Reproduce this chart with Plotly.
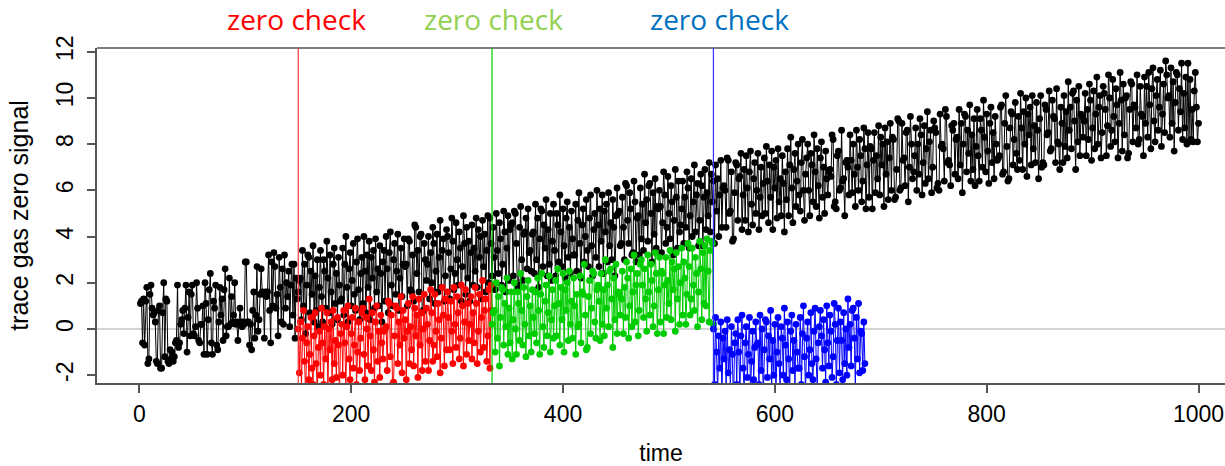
import plotly.graph_objects as go

# Raw signal, one reading per time step (t = 1 .. 1000)
black_signal = [
    1.1, 1.2, -0.6, 1.3, -0.7, 1.2, 1.8, -1.5, -1.3, 1.5, 1.9, 0.9, 0.6, 0.7, 0.3, -1.4, -1.5, 0.8, 1.0, -1.7,
    -1.7, 0.7, 2.0, -1.2, 1.3, 1.2, -1.4, -1.5, -0.9, -1.3, -1.0, -1.4, -1.2, -0.6, -0.5, 1.9, -0.8, -0.6, 0.2, 0.4,
    0.8, -0.2, 0.9, 1.9, -1.0, 0.5, 1.6, -0.3, 1.5, 1.9, -0.2, -0.3, 0.1, 2.0, 0.9, -0.5, -0.6, 0.2, 0.2, 1.0,
    -1.1, 2.0, 1.1, -1.1, 0.4, 1.7, 2.4, -0.6, -1.1, 1.2, 0.9, 1.9, -0.7, -0.9, 0.3, 1.8, 0.6, 1.3, -0.5, 1.7,
    2.6, -0.3, 0.1, 0.1, 2.2, 0.2, 1.4, 0.3, 0.6, 2.0, 0.2, 0.3, -0.5, 0.2, 0.9, 0.3, 0.1, 0.3, 0.2, 2.9,
    2.9, 0.3, 0.3, -0.7, 0.2, -0.9, 0.8, 1.6, -0.4, 0.6, 2.7, -0.1, 0.4, 1.5, 2.6, 1.6, 1.5, -0.4, 1.6, 1.4,
    1.6, 3.2, 0.8, -0.6, 2.9, 1.0, 3.3, 2.7, 0.9, 1.5, -0.3, 3.1, 1.8, 0.3, 2.6, 0.2, 3.2, 0.9, 2.0, 1.4,
    2.5, 0.1, 1.9, 2.8, 0.6, 2.8, -0.4, 2.2, 1.3, 1.6,
    2.1, 2.2, 0.4, 3.4, 1.0, 2.8, -0.2, 1.9, 3.2, 3.1, 0.7, 2.5, 1.5, 3.6, 0.3, 2.3, 0.8, 3.0, 0.1, 1.8,
    3.4, 1.4, 0.3, 3.0, 2.5, 0.9, 3.8, 2.2, 0.7, 3.2, 1.6, 0.2, 2.8, 3.5, 1.1, 2.4, 0.4, 3.1, 1.9, 1.2,
    1.3, 3.5, 0.6, 2.8, 4.0, 1.8, 0.3, 2.6, 3.3, 1.0, 2.1, 3.7, 1.5, 0.8, 2.9, 3.9, 1.7, 0.4, 2.4, 3.1,
    1.1, 4.0, 2.5, 0.7, 3.2, 1.8, 3.8, 0.4, 3.1, 2.2, 3.4, 0.9, 3.9, 1.6, 2.6, 1.0, 3.6, 2.4, 0.3, 2.9,
    3.4, 1.2, 4.0, 2.6, 0.7, 3.3, 4.2, 1.9, 1.0, 3.0, 3.7, 1.5, 2.5, 4.1, 0.8, 2.2, 3.5, 1.4, 2.8, 3.9,
    2.7, 2.8, 1.0, 3.9, 3.8, 1.7, 1.6, 3.2, 1.2, 4.5, 4.4, 2.4, 3.4, 1.6, 4.0, 4.1, 0.7, 0.8, 3.7, 3.0,
    2.1, 2.8, 4.0, 1.3, 3.3, 2.0, 4.4, 3.7, 1.1, 2.5, 4.1, 1.6, 3.1, 4.7, 1.8, 3.4, 3.9, 1.2, 2.3, 4.3,
    4.0, 3.3, 1.3, 2.6, 4.8, 3.8, 1.7, 2.4, 4.6, 3.0, 1.9, 4.2, 3.5, 1.2, 2.7, 4.9, 3.7, 1.5, 4.4, 2.2,
    3.8, 1.2, 3.3, 4.5, 1.9, 3.5, 2.5, 4.8, 1.8, 4.3, 3.1, 4.0, 1.3, 4.7, 2.7, 4.1, 1.6, 3.4, 4.9, 2.0,
    4.8, 3.7, 2.3, 4.4, 3.1, 1.7, 5.0, 3.4, 2.4, 4.6, 3.9, 1.9, 2.8, 5.1, 4.2, 1.6, 3.5, 4.9, 2.1, 4.3,
    4.5, 4.6, 2.3, 5.1, 5.0, 3.7, 1.8, 1.9, 4.4, 5.3, 3.0, 2.1, 4.1, 4.2, 4.8, 2.6, 5.2, 3.3, 3.4, 2.5,
    4.1, 4.2, 2.4, 5.4, 3.0, 4.8, 1.8, 3.9, 5.2, 5.1, 2.7, 4.5, 3.5, 5.6, 2.3, 4.3, 2.8, 5.0, 2.1, 3.8,
    5.4, 3.4, 2.3, 5.0, 4.5, 2.9, 5.8, 4.2, 2.7, 5.2, 3.6, 2.2, 4.8, 5.5, 3.1, 4.4, 2.4, 5.1, 3.9, 3.2,
    3.2, 5.4, 2.5, 4.7, 5.9, 3.7, 2.2, 4.5, 5.2, 2.9, 4.0, 5.6, 3.4, 2.7, 4.8, 5.8, 3.6, 2.3, 4.3, 5.0,
    3.1, 6.0, 4.5, 2.7, 5.2, 3.8, 5.8, 2.4, 5.1, 4.2, 5.4, 2.9, 5.9, 3.6, 4.6, 3.0, 5.6, 4.4, 2.3, 4.9,
    6.1, 5.0, 5.1, 3.6, 3.7, 5.7, 4.4, 3.0, 6.3, 6.2, 4.7, 3.7, 5.9, 5.2, 3.2, 3.3, 6.4, 5.5, 2.9, 4.8,
    4.9, 3.2, 6.1, 3.9, 5.4, 3.4, 6.7, 4.6, 5.6, 3.8, 6.2, 6.3, 5.0, 2.9, 5.9, 4.1, 6.5, 3.5, 5.3, 5.2,
    6.0, 5.3, 3.3, 4.6, 6.8, 5.8, 3.7, 4.4, 6.6, 5.0, 3.9, 6.2, 5.5, 3.2, 4.7, 6.9, 5.7, 3.5, 6.4, 4.2,
    4.5, 5.2, 6.4, 3.7, 5.7, 4.4, 6.8, 6.1, 3.5, 4.9, 6.5, 4.0, 5.5, 7.1, 4.2, 5.8, 6.3, 3.6, 4.7, 6.7,
    6.2, 3.6, 5.7, 6.9, 4.3, 5.9, 4.9, 7.2, 4.2, 6.7, 5.5, 6.4, 3.7, 7.1, 5.1, 6.5, 4.0, 5.8, 7.3, 4.4,
    6.1, 6.2, 6.0, 4.4, 7.4, 7.3, 5.0, 5.1, 6.8, 3.8, 3.9, 5.9, 7.2, 7.1, 4.7, 6.5, 6.6, 7.6, 4.3, 5.8,
    6.9, 4.7, 7.5, 6.1, 4.2, 6.8, 7.7, 5.4, 4.5, 6.5, 7.2, 5.0, 6.0, 7.6, 4.3, 5.7, 7.0, 4.9, 6.3, 7.4,
    5.0, 7.9, 6.4, 4.6, 7.1, 5.7, 7.7, 4.3, 7.0, 6.1, 7.3, 4.8, 7.8, 5.5, 6.5, 4.9, 7.5, 6.3, 4.2, 6.8,
    5.6, 7.8, 4.9, 7.1, 8.3, 6.1, 4.6, 6.9, 7.6, 5.3, 6.4, 8.0, 5.8, 5.1, 7.2, 8.2, 6.0, 4.7, 6.7, 7.4,
    8.0, 6.0, 4.9, 7.6, 7.1, 5.5, 8.4, 6.8, 5.3, 7.8, 6.2, 4.8, 7.4, 8.1, 5.7, 7.0, 5.0, 7.7, 6.5, 5.8,
    6.8, 6.9, 6.6, 8.4, 8.2, 5.3, 5.5, 5.2, 7.5, 7.7, 6.0, 6.1, 8.6, 6.4, 6.5, 4.9, 7.2, 7.3, 7.0, 5.8,
    8.4, 7.3, 5.9, 8.0, 6.7, 5.3, 8.6, 7.0, 6.0, 8.2, 7.5, 5.5, 6.4, 8.7, 7.8, 5.2, 7.1, 8.5, 5.7, 7.9,
    7.8, 5.2, 7.3, 8.5, 5.9, 7.5, 6.5, 8.8, 5.8, 8.3, 7.1, 8.0, 5.3, 8.7, 6.7, 8.1, 5.6, 7.4, 8.9, 6.0,
    8.3, 8.2, 5.6, 5.7, 6.9, 9.1, 9.0, 6.0, 6.1, 8.9, 7.3, 7.4, 6.2, 8.5, 8.6, 5.5, 7.0, 9.2, 8.0, 6.5,
    6.8, 7.5, 8.7, 6.0, 8.0, 6.7, 9.1, 8.4, 5.8, 7.2, 8.8, 6.3, 7.8, 9.4, 6.5, 8.1, 8.6, 5.9, 7.0, 9.0,
    8.7, 8.5, 6.1, 6.3, 6.0, 9.3, 7.9, 8.0, 7.8, 6.4, 9.5, 9.2, 7.2, 7.3, 7.1, 6.2, 8.8, 8.6, 8.9, 6.7,
    8.2, 8.3, 6.5, 9.5, 7.1, 8.9, 5.9, 8.0, 9.3, 9.2, 6.8, 8.6, 7.6, 9.7, 6.4, 8.4, 6.9, 9.1, 6.2, 7.9,
    9.5, 7.5, 6.4, 9.1, 8.6, 7.0, 9.9, 8.3, 6.8, 9.3, 7.7, 6.3, 8.9, 9.6, 7.2, 8.5, 6.5, 9.2, 8.0, 7.3,
    7.4, 7.5, 9.6, 9.7, 6.7, 6.8, 8.9, 10.1, 7.9, 6.4, 6.5, 8.7, 9.4, 9.3, 7.1, 8.2, 9.8, 7.6, 6.9, 9.2,
    7.3, 10.2, 8.7, 6.9, 9.4, 8.0, 10.0, 6.6, 9.3, 8.4, 9.6, 7.1, 10.1, 7.8, 8.8, 7.2, 9.8, 8.6, 6.5, 9.1,
    10.1, 7.0, 7.2, 7.1, 9.7, 9.5, 8.4, 8.5, 10.3, 7.7, 7.8, 9.9, 9.2, 9.1, 7.2, 10.4, 8.1, 8.0, 6.9, 9.6,
    8.9, 7.2, 10.1, 7.9, 9.4, 7.4, 10.7, 8.6, 9.6, 7.8, 10.2, 10.3, 9.0, 6.9, 9.9, 8.1, 10.5, 7.5, 9.3, 9.2,
    8.3, 9.0, 10.2, 7.5, 9.5, 8.2, 10.6, 9.9, 7.3, 8.7, 10.3, 7.8, 9.3, 10.9, 8.0, 9.6, 10.1, 7.4, 8.5, 10.5,
    10.2, 9.5, 7.5, 8.8, 11.0, 10.0, 7.9, 8.6, 10.8, 9.2, 8.1, 10.4, 9.7, 7.4, 8.9, 11.1, 9.9, 7.7, 10.6, 8.4,
    10.0, 10.1, 7.4, 7.6, 9.5, 10.7, 10.6, 8.1, 9.7, 9.6, 8.7, 11.0, 8.0, 8.2, 10.5, 9.3, 9.2, 7.5, 10.9, 8.9,
    10.5, 8.3, 11.1, 9.7, 7.8, 10.4, 11.3, 9.0, 8.1, 10.1, 10.8, 8.6, 9.6, 11.2, 7.9, 9.3, 10.6, 8.5, 11.6, 11.0,
    10.0, 10.1, 8.3, 11.3, 8.9, 10.7, 7.7, 9.8, 11.1, 11.0, 8.6, 10.4, 9.4, 11.5, 8.2, 10.2, 8.7, 10.9, 8.0, 11.5,
    8.1, 10.8, 8.2, 9.5, 8.1, 10.3, 11.1, 9.6, 8.1, 8.9,
]

# Zero-corrected signal after each zero check
red_start = 150
red_signal = [
    0.0,
    -1.9, 0.3, -2.6, -0.4, 0.8, -1.4, -2.9, -0.6, 0.1, -2.2, -1.1, 0.5, -1.7, -2.4, -0.3, 0.7, -1.5, -2.8, -0.8, -0.1,
    -2.0, 0.9, -0.6, -2.4, 0.1, -1.3, 0.7, -2.7, 0.0, -0.9, 0.3, -2.2, 0.8, -1.5, -0.5, -2.1, 0.5, -0.7, -2.8, -0.2,
    0.2, -2.0, 0.8, -0.6, -2.5, 0.1, 1.0, -1.3, -2.2, -0.2, 0.5, -1.7, -0.7, 0.9, -2.4, -1.0, 0.3, -1.8, -0.4, 0.7,
    0.9, -1.1, -2.2, 0.5, 0.0, -1.6, 1.3, -0.3, -1.8, 0.7, -0.9, -2.3, 0.3, 1.0, -1.4, -0.1, -2.1, 0.6, -0.6, -1.3,
    -0.1, 0.0, 0.1, -1.8, 1.2, 1.1, -1.2, 0.6, -2.4, -2.3, -0.3, 1.0, 0.9, -1.5, 0.3, -0.7, 1.4, -1.9, 0.8, -0.4,
    0.4, -2.2, -0.1, 1.1, -1.5, 0.1, -0.9, 1.4, -1.6, 0.9, -0.3, 0.6, -2.1, 1.3, -0.7, 0.7, -1.8, 0.0, 1.5, -1.4,
    0.9, 0.2, -1.8, -0.5, 1.7, 0.7, -1.4, -0.7, 1.5, -0.1, -1.2, 1.1, 0.4, -1.9, -0.4, 1.8, 0.6, -1.6, 1.3, -0.9,
    1.6, 0.5, -0.9, 1.2, -0.1, -1.5, 1.8, 0.2, -0.8, 1.4, 0.7, -1.3, -0.4, 1.9, 1.0, -1.6, 0.3, 1.7, -1.1, 1.1,
    -0.5, 0.2, 1.4, -1.3, 0.7, -0.6, 1.8, 1.1, -1.5, -0.1, 1.5, -1.0, 0.5, 2.1, -0.8, 0.8, 1.3, -1.4, -0.3, 1.7,
    -1.7, 1.9, 0.8,
]

green_start = 333
green_signal = [
    0.2,
    0.7, 0.8, -1.0, 2.0, -0.4, 1.4, -1.6, 0.5, 1.8, 1.7, -0.7, 1.1, 0.1, 2.2, -1.1, 0.9, -0.6, 1.6, -1.3, 0.4,
    2.0, 0.0, -1.1, 1.6, 1.1, -0.5, 2.4, 0.8, -0.7, 1.8, 0.2, -1.2, 1.4, 2.1, -0.3, 1.0, -1.0, 1.7, 0.5, -0.2,
    1.6, -0.6, 2.2, 0.8, -1.1, 1.5, 2.4, 0.1, -0.8, 1.2, 1.9, -0.3, 0.7, 2.3, -1.0, 0.4, 1.7, -0.4, 1.0, 2.1,
    -0.3, 2.6, 1.1, -0.7, 1.8, 0.4, 2.4, -1.0, 1.7, 0.8, 2.0, -0.5, 2.5, 0.2, 1.2, -0.4, 2.2, 1.0, -1.1, 1.5,
    0.1, 0.2, 2.3, -0.6, 1.6, 1.5, 2.8, 0.6, -0.9, -0.8, 1.4, 2.1, -0.2, 0.9, 2.5, 2.4, 0.3, -0.4, 1.7, 1.9,
    1.2, -0.5, 2.4, 0.2, 1.7, -0.3, 3.0, 0.9, 1.9, 0.1, 2.5, 2.6, 1.3, -0.8, 2.2, 0.4, 2.8, -0.2, 1.6, 1.5,
    0.6, 1.3, 2.5, -0.2, 1.8, 0.5, 2.9, 2.2, -0.4, 1.0, 2.6, 0.1, 1.6, 3.2, 0.3, 1.9, 2.4, -0.3, 0.8, 2.8,
    3.0, 1.9, 0.5, 2.6, 1.3, -0.1, 3.2, 1.6, 0.6, 2.8, 2.1, 0.1, 1.0, 3.3, 2.4, -0.2, 1.7, 3.1, 0.3, 2.5,
    2.4, -0.2, 1.9, 3.1, 0.5, 2.1, 1.1, 3.4, 0.4, 2.9, 1.7, 2.6, -0.1, 3.3, 1.3, 2.7, 0.2, 2.0, 3.5, 0.6,
    2.9, 2.2, 0.2, 1.5, 3.7, 2.7, 0.6, 1.3, 3.5, 1.9, 0.8, 3.1, 2.4, 0.1, 1.6, 3.8, 2.6, 0.4, 3.3, 1.1,
    3.6, 1.0, 3.9, 2.5, 0.3, 3.4, 3.8, 3.7, 0.2,
]

blue_start = 542
blue_signal = [
    0.0,
    -2.4, 0.5, -1.0, -2.8, -0.3, -1.7, 0.3, -3.1, -0.4, -1.3, -0.1, -2.6, 0.4, -1.9, -0.9, -2.5, 0.1, -1.1, -3.2, -0.6,
    -0.2, -2.4, 0.4, -1.0, -2.9, -0.3, 0.6, -1.7, -2.6, -0.6, 0.1, -2.1, -1.1, 0.5, -2.8, -1.4, -0.1, -2.2, -0.8, 0.3,
    -0.7, -0.6, -2.4, 0.6, -1.8, 0.0, -3.0, -0.9, 0.4, 0.3, -2.1, -0.3, -1.3, 0.8, -2.5, -0.5, -2.0, 0.2, -2.7, -1.0,
    0.5, -1.5, -2.6, 0.1, -0.4, -2.0, 0.9, -0.7, -2.2, 0.3, -1.3, -2.7, -0.1, 0.6, -1.8, -0.5, -2.5, 0.2, -1.0, -1.7,
    -1.7, 0.5, -2.4, -0.2, 1.0, -1.2, -2.7, -0.4, 0.3, -2.0, -0.9, 0.7, -1.5, -2.2, -0.1, 0.9, -1.3, -2.6, -0.6, 0.1,
    0.8, -0.3, -1.7, 0.4, -0.9, -2.3, 1.0, -0.6, -1.6, 0.6, -0.1, -2.1, -1.2, 1.1, 0.2, -2.4, -0.5, 0.9, -1.9, 0.3,
    -0.5, -2.2, 0.7, -1.5, 0.0, -2.0, 1.3, -0.8, 0.2, -1.6, 0.8, 0.9, -0.4, -2.5, 0.5, -1.3, 1.1, -1.9, -0.1, -0.2,
    -1.8, 0.3, -1.5,
]

zero_checks = [150, 333, 542]
check_colors = ["#F03C3C", "#00CD00", "#3030FF"]
label_colors = ["#FF0000", "#92D050", "#0070C0"]
label_x = [148, 334, 548]
label_text = "zero check"

x_ticks = [0, 200, 400, 600, 800, 1000]
y_ticks = [-2, 0, 2, 4, 6, 8, 10, 12]
y_tick_text = ["-2", "0", "2", "4", "6", "8", "10", "12"]
x_range = [-40, 1025]
y_range = [-2.34, 12.16]

font_family = "Liberation Sans, Arial, sans-serif"
tick_font = dict(family=font_family, size=23, color="#000000")
xtitle_font = dict(family=font_family, size=23, color="#000000")
ytitle_font = dict(family=font_family, size=25, color="#000000")
axis_color = "#555555"

fig = go.Figure()


def add_series(start, values, color):
    t = list(range(start, start + len(values)))
    fig.add_trace(go.Scatter(
        x=t, y=values, mode="lines+markers",
        line=dict(color=color, width=1),
        marker=dict(color=color, size=6.8, line=dict(width=0)),
        showlegend=False, hoverinfo="skip",
    ))


add_series(1, black_signal, "#000000")
add_series(red_start, red_signal, "#FF0000")
add_series(green_start, green_signal, "#00CD00")
add_series(blue_start, blue_signal, "#0000FF")

shapes = [
    # zero reference line
    dict(type="line", xref="paper", yref="y", x0=0, x1=1, y0=0, y1=0,
         line=dict(color="#D3D3D3", width=2), layer="below"),
    # top border of the plot box
    dict(type="line", xref="paper", yref="paper", x0=0, x1=1, y0=1, y1=1,
         line=dict(color=axis_color, width=1.5)),
]
for t0, col in zip(zero_checks, check_colors):
    shapes.append(dict(type="line", xref="x", yref="paper", x0=t0, x1=t0, y0=0, y1=1,
                       line=dict(color=col, width=1.2)))

annotations = []
for xpos, col in zip(label_x, label_colors):
    annotations.append(dict(
        x=xpos, xref="x", y=1.087, yref="paper", yanchor="middle", xanchor="center",
        text=label_text, showarrow=False,
        font=dict(family="Open Sans, Noto Sans, sans-serif", size=28, color=col),
    ))

fig.update_layout(
    width=1225, height=466,
    margin=dict(l=97, r=0, t=48, b=83, autoexpand=False),
    paper_bgcolor="white", plot_bgcolor="white",
    shapes=shapes, annotations=annotations,
    xaxis=dict(
        range=x_range, tickvals=x_ticks, ticks="outside", ticklen=8, tickwidth=1.5,
        tickcolor=axis_color, showline=True, linecolor=axis_color, linewidth=1.5,
        showgrid=False, zeroline=False, tickfont=tick_font, ticklabelstandoff=2,
        automargin=False,
        title=dict(text="time", font=xtitle_font, standoff=27),
    ),
    yaxis=dict(
        range=y_range, tickvals=y_ticks, ticktext=y_tick_text, tickangle=-90,
        ticks="outside", ticklen=8, tickwidth=1.5,
        tickcolor=axis_color, showline=True, linecolor=axis_color, linewidth=1.5,
        showgrid=False, zeroline=False, tickfont=tick_font, ticklabelstandoff=5,
        automargin=False,
        title=dict(text="trace gas zero signal", font=ytitle_font, standoff=16),
    ),
)

fig.write_html("out.html")
